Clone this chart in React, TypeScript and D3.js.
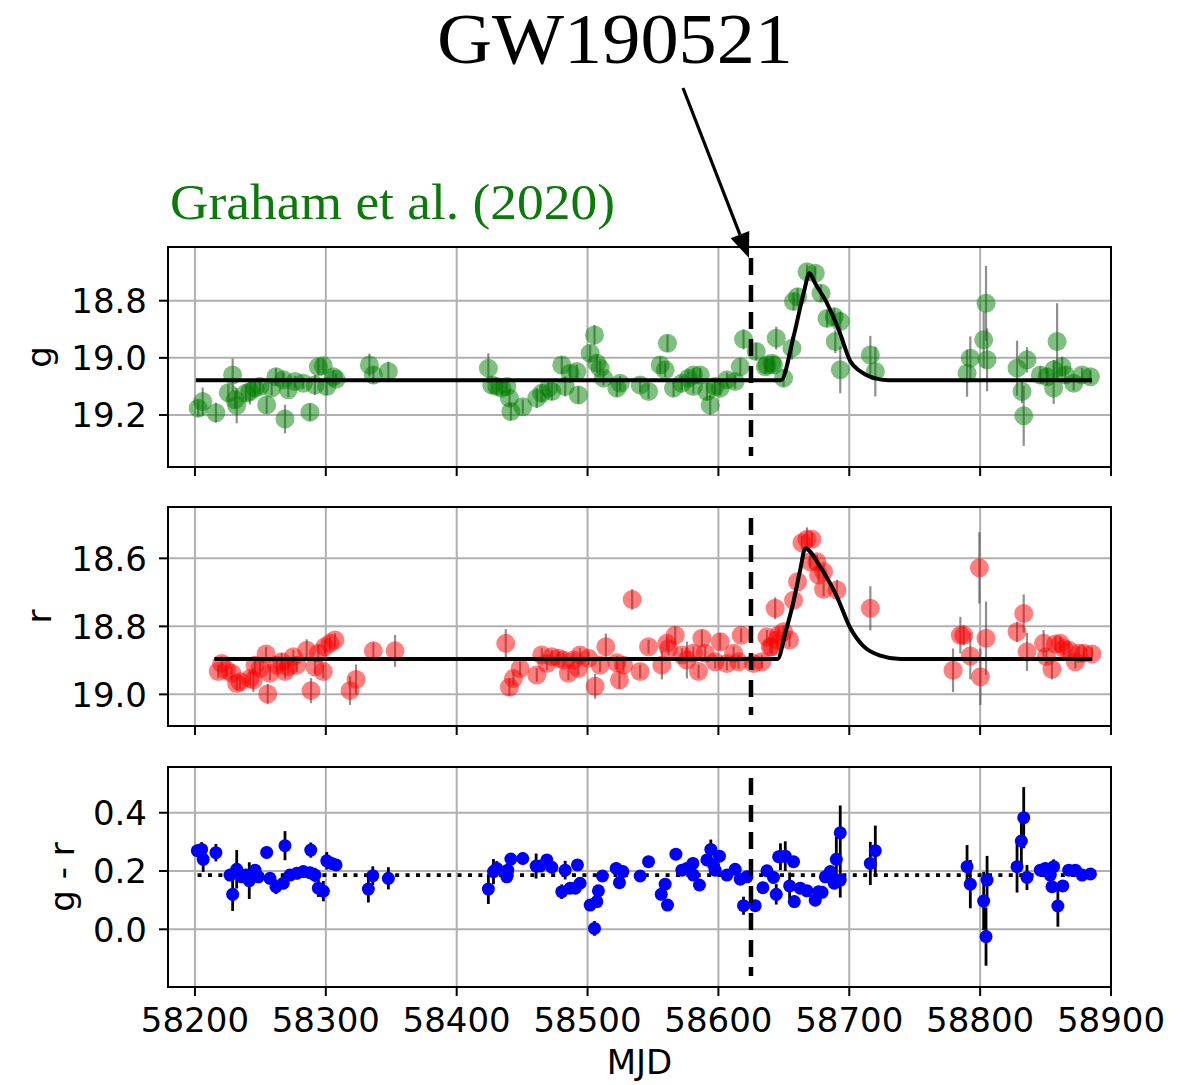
import React from "react";
import * as d3 from "d3";

// ---------------- data ----------------
const xTickValues = [58200, 58300, 58400, 58500, 58600, 58700, 58800, 58900];
const gTickValues = [18.8, 19.0, 19.2];
const rTickValues = [18.6, 18.8, 19.0];
const grTickValues = [0.0, 0.2, 0.4];

const eventMJD = 58624.9; // GW190521
const eventName = "GW190521";
const refText = "Graham et al. (2020)";

// [MJD, g mag, error]
const gData: [number, number, number][] = [
  [58202.5, 19.176, 0.03], [58205.9, 19.153, 0.049], [58216.0, 19.192, 0.035],
  [58225.5, 19.122, 0.03], [58228.8, 19.06, 0.058], [58230.6, 19.147, 0.03],
  [58231.9, 19.167, 0.062], [58239.0, 19.124, 0.03], [58242.0, 19.118, 0.045],
  [58245.9, 19.106, 0.03], [58249.7, 19.1, 0.025], [58254.8, 19.165, 0.03],
  [58258.6, 19.106, 0.025], [58261.9, 19.066, 0.03], [58267.5, 19.077, 0.025],
  [58268.8, 19.214, 0.05], [58271.3, 19.112, 0.025], [58276.5, 19.083, 0.02],
  [58282.8, 19.089, 0.02], [58287.9, 19.19, 0.03], [58291.7, 19.095, 0.035],
  [58294.3, 19.031, 0.03], [58298.1, 19.028, 0.025], [58300.7, 19.1, 0.03],
  [58305.7, 19.066, 0.025], [58307.8, 19.075, 0.02], [58333.3, 19.025, 0.04],
  [58336.3, 19.06, 0.03], [58347.8, 19.048, 0.035],
  [58424.2, 19.036, 0.052], [58426.8, 19.095, 0.03], [58430.6, 19.1, 0.03],
  [58434.5, 19.106, 0.025], [58438.3, 19.1, 0.025], [58440.3, 19.141, 0.03],
  [58441.4, 19.188, 0.03], [58450.5, 19.171, 0.025], [58461.2, 19.141, 0.035],
  [58465.0, 19.124, 0.03], [58470.1, 19.106, 0.025], [58472.7, 19.118, 0.03],
  [58480.3, 19.025, 0.03], [58482.9, 19.1, 0.035], [58486.7, 19.054, 0.025],
  [58491.8, 19.048, 0.025], [58493.0, 19.13, 0.03], [58502.0, 18.984, 0.03],
  [58505.3, 18.92, 0.035], [58507.1, 19.019, 0.03], [58509.6, 19.036, 0.025],
  [58512.2, 19.071, 0.025], [58522.4, 19.106, 0.03], [58524.9, 19.089, 0.025],
  [58540.2, 19.095, 0.025], [58546.6, 19.118, 0.025], [58555.5, 19.025, 0.03],
  [58559.3, 19.042, 0.025], [58561.1, 18.949, 0.03], [58565.7, 19.106, 0.03],
  [58572.1, 19.089, 0.025], [58577.1, 19.071, 0.025], [58580.9, 19.06, 0.025],
  [58586.1, 19.06, 0.025], [58580.9, 19.1, 0.025], [58591.2, 19.118, 0.03],
  [58593.7, 19.165, 0.035], [58597.5, 19.1, 0.025], [58601.4, 19.106, 0.025],
  [58606.5, 19.077, 0.025], [58612.8, 19.083, 0.025], [58616.7, 19.031, 0.03],
  [58619.2, 18.935, 0.035], [58628.9, 18.978, 0.03], [58635.8, 19.031, 0.025],
  [58637.1, 19.025, 0.025], [58640.9, 19.019, 0.025], [58642.1, 19.025, 0.03],
  [58644.2, 18.931, 0.04], [58649.8, 19.071, 0.03], [58656.2, 18.966, 0.04],
  [58657.4, 18.803, 0.03], [58660.5, 18.786, 0.03], [58667.7, 18.699, 0.025],
  [58674.0, 18.704, 0.025], [58678.4, 18.774, 0.03], [58683.0, 18.862, 0.03],
  [58688.5, 18.856, 0.03], [58693.1, 18.873, 0.035], [58689.3, 18.943, 0.04],
  [58693.1, 19.042, 0.082], [58716.1, 18.99, 0.067], [58719.9, 19.048, 0.087],
  [58790.0, 19.054, 0.082], [58792.5, 19.001, 0.076], [58802.7, 18.937, 0.099],
  [58804.5, 18.809, 0.131], [58805.3, 19.007, 0.11], [58828.2, 19.036, 0.096],
  [58832.0, 19.118, 0.04], [58833.3, 19.203, 0.105], [58835.8, 19.007, 0.044],
  [58846.0, 19.06, 0.03], [58851.1, 19.066, 0.03], [58856.2, 19.042, 0.035],
  [58856.2, 19.106, 0.055], [58858.8, 18.943, 0.134], [58862.6, 19.031, 0.035],
  [58865.1, 19.06, 0.03], [58871.5, 19.089, 0.025], [58877.9, 19.06, 0.025],
  [58884.3, 19.066, 0.025],
];

// [MJD, r mag, error]
const rData: [number, number, number][] = [
  [58217.8, 18.933, 0.02], [58220.4, 18.909, 0.02], [58224.2, 18.929, 0.02],
  [58228.1, 18.938, 0.02], [58231.9, 18.968, 0.02], [58234.4, 18.963, 0.02],
  [58242.0, 18.953, 0.02], [58244.6, 18.958, 0.035], [58245.9, 18.914, 0.02],
  [58249.7, 18.924, 0.02], [58254.3, 18.881, 0.02], [58255.6, 18.999, 0.03],
  [58257.3, 18.938, 0.02], [58262.5, 18.914, 0.02], [58266.3, 18.904, 0.025],
  [58268.8, 18.933, 0.02], [58271.3, 18.919, 0.02], [58275.2, 18.889, 0.02],
  [58277.8, 18.914, 0.02], [58285.4, 18.87, 0.032], [58288.7, 18.989, 0.037],
  [58291.7, 18.919, 0.02], [58294.3, 18.879, 0.025], [58298.1, 18.933, 0.02],
  [58299.4, 18.86, 0.02], [58303.2, 18.85, 0.02], [58307.0, 18.84, 0.02],
  [58318.5, 18.989, 0.042], [58323.1, 18.956, 0.044], [58336.3, 18.872, 0.025],
  [58352.9, 18.872, 0.047],
  [58437.5, 18.85, 0.042], [58440.3, 18.979, 0.025], [58443.4, 18.953, 0.02],
  [58448.5, 18.924, 0.02], [58461.2, 18.943, 0.02], [58465.0, 18.884, 0.02],
  [58468.9, 18.909, 0.02], [58472.7, 18.889, 0.02], [58477.8, 18.894, 0.02],
  [58481.6, 18.899, 0.02], [58485.4, 18.938, 0.02], [58489.3, 18.899, 0.02],
  [58493.0, 18.924, 0.02], [58494.3, 18.884, 0.02], [58500.7, 18.894, 0.02],
  [58505.8, 18.976, 0.037], [58509.6, 18.914, 0.02], [58514.0, 18.86, 0.039],
  [58522.4, 18.907, 0.02], [58524.4, 18.958, 0.025], [58527.5, 18.914, 0.02],
  [58534.1, 18.721, 0.03], [58540.2, 18.933, 0.02], [58546.6, 18.86, 0.02],
  [58556.8, 18.914, 0.042], [58560.6, 18.85, 0.02], [58561.9, 18.865, 0.02],
  [58567.0, 18.826, 0.025], [58572.1, 18.884, 0.02], [58575.9, 18.899, 0.054],
  [58580.9, 18.879, 0.02], [58584.8, 18.933, 0.02], [58587.4, 18.835, 0.025],
  [58589.9, 18.879, 0.02], [58597.5, 18.904, 0.02], [58601.4, 18.845, 0.025],
  [58606.5, 18.909, 0.02], [58611.6, 18.879, 0.02], [58615.4, 18.904, 0.02],
  [58617.4, 18.826, 0.02], [58626.8, 18.909, 0.02], [58633.3, 18.904, 0.02],
  [58637.1, 18.831, 0.02], [58640.9, 18.86, 0.02], [58643.4, 18.747, 0.032],
  [58644.7, 18.84, 0.02], [58639.6, 18.86, 0.02], [58646.0, 18.826, 0.02],
  [58649.8, 18.816, 0.02], [58654.4, 18.84, 0.02], [58657.4, 18.723, 0.02],
  [58660.5, 18.669, 0.02], [58663.8, 18.554, 0.02], [58667.7, 18.544, 0.035],
  [58671.5, 18.544, 0.02], [58670.2, 18.61, 0.02], [58675.3, 18.61, 0.02],
  [58676.6, 18.649, 0.02], [58680.4, 18.639, 0.02], [58680.4, 18.691, 0.02],
  [58690.6, 18.693, 0.03], [58716.1, 18.747, 0.065], [58779.3, 18.929, 0.064],
  [58784.9, 18.826, 0.054], [58787.5, 18.826, 0.03], [58792.5, 18.887, 0.069],
  [58799.4, 18.628, 0.105], [58800.2, 18.948, 0.083], [58804.5, 18.835, 0.108],
  [58828.2, 18.816, 0.03], [58833.3, 18.762, 0.056], [58835.8, 18.875, 0.056],
  [58848.5, 18.85, 0.039], [58850.6, 18.889, 0.02], [58854.9, 18.926, 0.03],
  [58857.5, 18.852, 0.02], [58861.3, 18.85, 0.02], [58863.9, 18.865, 0.02],
  [58867.7, 18.87, 0.02], [58872.8, 18.904, 0.02], [58875.4, 18.879, 0.02],
  [58879.2, 18.879, 0.02], [58885.5, 18.881, 0.02],
];

// [MJD, g - r, error]
const grData: [number, number, number][] = [
  [58201.8, 0.27, 0.02], [58205.1, 0.274, 0.025], [58206.3, 0.24, 0.043],
  [58216.0, 0.263, 0.03], [58226.8, 0.186, 0.02], [58228.8, 0.12, 0.057],
  [58231.9, 0.206, 0.066], [58235.7, 0.18, 0.02], [58239.0, 0.186, 0.02],
  [58241.5, 0.167, 0.063], [58245.9, 0.203, 0.02], [58248.4, 0.18, 0.02],
  [58254.8, 0.264, 0.02], [58257.3, 0.175, 0.02], [58261.9, 0.146, 0.025],
  [58267.5, 0.158, 0.02], [58268.8, 0.287, 0.05], [58272.6, 0.186, 0.02],
  [58277.8, 0.192, 0.02], [58282.8, 0.198, 0.02], [58287.9, 0.194, 0.02],
  [58288.5, 0.272, 0.026], [58291.7, 0.186, 0.025], [58294.3, 0.141, 0.03],
  [58298.1, 0.131, 0.035], [58300.7, 0.235, 0.03], [58304.5, 0.226, 0.02],
  [58307.8, 0.221, 0.02], [58332.5, 0.138, 0.046], [58335.9, 0.184, 0.032],
  [58347.8, 0.175, 0.038],
  [58424.2, 0.138, 0.051], [58428.1, 0.198, 0.043], [58430.6, 0.209, 0.025],
  [58438.3, 0.18, 0.02], [58439.0, 0.203, 0.02], [58441.4, 0.241, 0.02],
  [58450.5, 0.243, 0.02], [58460.7, 0.217, 0.043], [58463.8, 0.217, 0.02],
  [58468.9, 0.238, 0.02], [58472.7, 0.213, 0.02], [58480.3, 0.129, 0.025],
  [58482.9, 0.203, 0.032], [58486.7, 0.141, 0.02], [58490.6, 0.141, 0.02],
  [58492.3, 0.221, 0.02], [58494.3, 0.158, 0.02], [58502.0, 0.083, 0.02],
  [58505.3, 0.003, 0.025], [58507.1, 0.095, 0.02], [58508.3, 0.132, 0.02],
  [58511.4, 0.183, 0.02], [58521.9, 0.209, 0.02], [58524.4, 0.16, 0.02],
  [58527.0, 0.198, 0.02], [58540.2, 0.183, 0.02], [58546.6, 0.232, 0.02],
  [58556.3, 0.12, 0.02], [58559.3, 0.155, 0.02], [58561.1, 0.083, 0.02],
  [58567.5, 0.258, 0.02], [58572.1, 0.203, 0.02], [58575.9, 0.209, 0.02],
  [58580.5, 0.226, 0.02], [58580.9, 0.186, 0.02], [58585.5, 0.152, 0.02],
  [58591.2, 0.238, 0.02], [58594.2, 0.274, 0.034], [58596.3, 0.221, 0.02],
  [58597.5, 0.203, 0.02], [58600.8, 0.251, 0.02], [58606.5, 0.186, 0.02],
  [58612.8, 0.206, 0.02], [58616.7, 0.172, 0.02], [58621.8, 0.18, 0.02],
  [58619.2, 0.081, 0.031], [58628.1, 0.081, 0.02], [58634.0, 0.143, 0.02],
  [58637.1, 0.201, 0.02], [58642.1, 0.178, 0.02], [58644.2, 0.12, 0.035],
  [58646.0, 0.249, 0.02], [58647.4, 0.249, 0.046], [58651.1, 0.251, 0.051],
  [58654.4, 0.149, 0.046], [58657.4, 0.232, 0.02], [58658.0, 0.095, 0.02],
  [58662.5, 0.141, 0.02], [58667.7, 0.132, 0.02], [58674.0, 0.1, 0.02],
  [58676.6, 0.129, 0.02], [58679.2, 0.127, 0.02], [58681.7, 0.18, 0.02],
  [58685.5, 0.198, 0.02], [58688.5, 0.158, 0.02], [58690.1, 0.24, 0.077],
  [58693.1, 0.331, 0.094], [58693.1, 0.169, 0.06], [58716.1, 0.226, 0.074],
  [58719.9, 0.27, 0.086], [58790.0, 0.215, 0.074], [58792.5, 0.155, 0.083],
  [58802.7, 0.097, 0.1], [58804.5, -0.025, 0.1], [58805.3, 0.169, 0.083],
  [58828.2, 0.215, 0.089], [58831.5, 0.303, 0.091], [58833.3, 0.383, 0.105],
  [58835.8, 0.178, 0.043], [58846.0, 0.203, 0.02], [58849.8, 0.209, 0.02],
  [58853.6, 0.186, 0.02], [58856.2, 0.215, 0.025], [58854.9, 0.146, 0.02],
  [58859.4, 0.08, 0.071], [58863.2, 0.149, 0.02], [58867.7, 0.203, 0.02],
  [58872.8, 0.203, 0.02], [58877.9, 0.186, 0.02], [58884.3, 0.19, 0.02],
];

// model curves: [MJD, mag]
const gModel: [number, number][] = [
  [58200.7, 19.078], [58647.8, 19.078], [58657.4, 18.926], [58665.1, 18.774],
  [58669.6, 18.704], [58674.0, 18.74], [58683.0, 18.809], [58691.8, 18.9],
  [58700.8, 19.012], [58708.4, 19.047], [58718.6, 19.07], [58730.0, 19.078],
  [58885.5, 19.078],
];
const rModel: [number, number][] = [
  [58214.8, 18.896], [58645.2, 18.896], [58651.1, 18.82], [58657.4, 18.727],
  [58662.5, 18.634], [58666.4, 18.571], [58677.8, 18.625], [58690.6, 18.713],
  [58700.8, 18.805], [58711.0, 18.859], [58723.7, 18.886], [58739.0, 18.896],
  [58885.5, 18.896],
];
const grMean = 0.186;
const grMeanSpan: [number, number] = [58202, 58886.5];

// ---------------- layout ----------------
const W = 1195;
const H = 1085;
const LEFT = 168;
const RIGHT = 1111;
const FONT = "'DejaVu Sans', sans-serif";
const FS = 34;

type Panel = {
  key: string;
  top: number;
  bottom: number;
  domain: [number, number]; // value at top, value at bottom
  ticks: number[];
  label: string;
  labelX: number;
};

const panels: Panel[] = [
  { key: "g", top: 247, bottom: 467, domain: [18.612, 19.382], ticks: gTickValues, label: "g", labelX: 51 },
  { key: "r", top: 507, bottom: 726, domain: [18.449, 19.093], ticks: rTickValues, label: "r", labelX: 51 },
  { key: "gr", top: 767, bottom: 987, domain: [0.557, -0.198], ticks: grTickValues, label: "g - r", labelX: 74 },
];

export default function App() {
  const x = d3.scaleLinear().domain([58179.4, 58900]).range([LEFT, RIGHT]);
  const fmt = d3.format(".1f");
  const ys = panels.map((p) => d3.scaleLinear().domain(p.domain).range([p.top, p.bottom]));

  const renderPanel = (p: Panel, i: number) => {
    const y = ys[i];
    const h = p.bottom - p.top;
    const xe = x(eventMJD);
    let content: React.ReactNode = null;

    if (p.key === "g" || p.key === "r") {
      const data = p.key === "g" ? gData : rData;
      const model = p.key === "g" ? gModel : rModel;
      const color = p.key === "g" ? "#008000" : "#ff0000";
      const line = d3
        .line<[number, number]>()
        .x((d) => x(d[0]))
        .y((d) => y(d[1]))
        .curve(d3.curveMonotoneX);
      content = (
        <g>
          {data.map((d, j) => (
            <line key={"e" + j} x1={x(d[0])} x2={x(d[0])} y1={y(d[1] - d[2])} y2={y(d[1] + d[2])}
              stroke="#444" strokeOpacity={0.6} strokeWidth={2.2} />
          ))}
          {data.map((d, j) => (
            <circle key={"c" + j} cx={x(d[0])} cy={y(d[1])} r={9.5} fill={color} fillOpacity={0.5} />
          ))}
          <path d={line(model) || ""} fill="none" stroke="#000" strokeWidth={4} strokeLinejoin="round" />
        </g>
      );
    } else {
      content = (
        <g>
          <line x1={x(grMeanSpan[0])} x2={x(grMeanSpan[1])} y1={y(grMean)} y2={y(grMean)}
            stroke="#000" strokeWidth={3.8} strokeDasharray="4,6.4" />
          {grData.map((d, j) => (
            <line key={"e" + j} x1={x(d[0])} x2={x(d[0])} y1={y(d[1] - d[2])} y2={y(d[1] + d[2])}
              stroke="#000" strokeWidth={2.8} />
          ))}
          {grData.map((d, j) => (
            <circle key={"c" + j} cx={x(d[0])} cy={y(d[1])} r={6.5} fill="#0000ff" />
          ))}
        </g>
      );
    }

    return (
      <g key={p.key}>
        {/* grid */}
        {xTickValues.map((t) => (
          <line key={"gx" + t} x1={x(t)} x2={x(t)} y1={p.top} y2={p.bottom} stroke="#b0b0b0" strokeWidth={2} />
        ))}
        {p.ticks.map((t) => (
          <line key={"gy" + t} x1={LEFT} x2={RIGHT} y1={y(t)} y2={y(t)} stroke="#b0b0b0" strokeWidth={2} />
        ))}
        {content}
        {/* event line */}
        <line x1={xe} x2={xe} y1={p.top + 0.05 * h} y2={p.bottom - 0.05 * h}
          stroke="#000" strokeWidth={4.5} strokeDasharray="17,10" />
        {/* frame */}
        <rect x={LEFT} y={p.top} width={RIGHT - LEFT} height={h} fill="none" stroke="#000" strokeWidth={2} />
        {/* y ticks */}
        {p.ticks.map((t) => (
          <g key={"ty" + t}>
            <line x1={LEFT - 9} x2={LEFT} y1={y(t)} y2={y(t)} stroke="#000" strokeWidth={2} />
            <text x={LEFT - 21} y={y(t)} dy="0.36em" textAnchor="end" fontFamily={FONT} fontSize={FS} fill="#000">
              {fmt(t)}
            </text>
          </g>
        ))}
        {/* x ticks */}
        {xTickValues.map((t) => (
          <line key={"tx" + t} x1={x(t)} x2={x(t)} y1={p.bottom} y2={p.bottom + 9} stroke="#000" strokeWidth={2} />
        ))}
        <text transform={`translate(${p.labelX},${(p.top + p.bottom) / 2}) rotate(-90)`} textAnchor="middle"
          fontFamily={FONT} fontSize={FS} fill="#000">
          {p.label}
        </text>
      </g>
    );
  };

  const last = panels[panels.length - 1];
  const tipX = x(eventMJD) - 2;
  const tipY = panels[0].top + 0.05 * (panels[0].bottom - panels[0].top);
  const startX = 683;
  const startY = 88;
  const dx = tipX - startX;
  const dy = tipY - startY;
  const len = Math.hypot(dx, dy);
  const ux = dx / len;
  const uy = dy / len;
  const headL = 25;
  const headW = 10;
  const bx = tipX - ux * headL;
  const by = tipY - uy * headL;

  return (
    <div style={{ position: "absolute", left: 0, top: 0, width: W, height: H, background: "#fff" }}>
      <svg width={W} height={H} viewBox={`0 0 ${W} ${H}`} style={{ display: "block" }}>
        <rect x={0} y={0} width={W} height={H} fill="#fff" />
        {panels.map(renderPanel)}
        {xTickValues.map((t) => (
          <text key={"lx" + t} x={x(t)} y={last.bottom + 45} textAnchor="middle" fontFamily={FONT} fontSize={FS} fill="#000">
            {t}
          </text>
        ))}
        <text x={(LEFT + RIGHT) / 2} y={1074} textAnchor="middle" fontFamily={FONT} fontSize={FS} fill="#000">
          MJD
        </text>
        {/* annotations */}
        <text x={615} y={63} textAnchor="middle" fontFamily="'Liberation Serif', serif" fontSize={72}
          textLength={356} lengthAdjust="spacingAndGlyphs" fill="#000">
          {eventName}
        </text>
        <text x={170} y={219} fontFamily="'Liberation Serif', serif" fontSize={50}
          textLength={445} lengthAdjust="spacingAndGlyphs" fill="#0b7a0b">
          {refText}
        </text>
        <line x1={startX} y1={startY} x2={bx} y2={by} stroke="#000" strokeWidth={3.2} />
        <polygon
          points={`${tipX},${tipY} ${bx - uy * headW},${by + ux * headW} ${bx + uy * headW},${by - ux * headW}`}
          fill="#000"
        />
      </svg>
    </div>
  );
}
